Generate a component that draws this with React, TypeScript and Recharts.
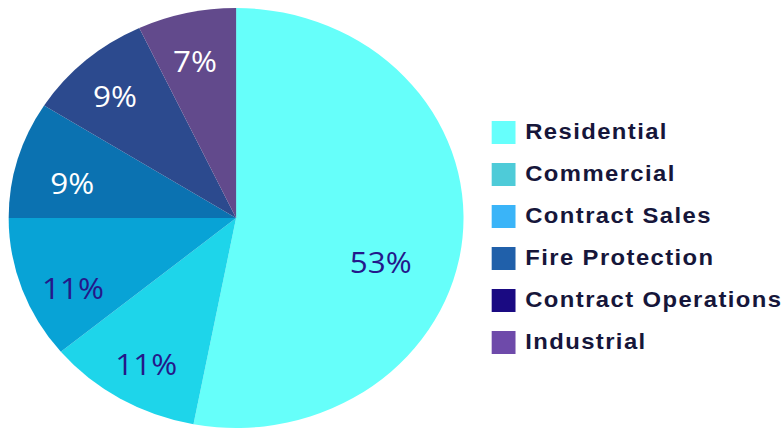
import { Cell, Legend, Pie, PieChart } from "recharts"

// Segment share pie. The reference is stretched a little horizontally,
// so the whole chart is drawn round and then scaled on x.

const categories = [
  "Residential",
  "Commercial",
  "Contract Sales",
  "Fire Protection",
  "Contract Operations",
  "Industrial",
]
const shares = [53, 11, 11, 9, 9, 7]

const SLICE_COLORS = ["#66fffa", "#1ed5ea", "#08a3d6", "#0b72b1", "#2c4a8e", "#624a8c"]
const LEGEND_COLORS = ["#66fffc", "#4ecbd8", "#3ab4f8", "#2060aa", "#1a0a82", "#6e4aaa"]
const LABEL_COLORS = ["#24188a", "#24188a", "#24188a", "#ffffff", "#ffffff", "#ffffff"]

// label radius (fraction of outer radius) and angle nudge in degrees
const LABEL_NUDGE = [
  { r: 0.67, da: -13 },
  { r: 0.8, da: 1 },
  { r: 0.79, da: 5 },
  { r: 0.74, da: 3 },
  { r: 0.79, da: 1 },
  { r: 0.77, da: 1 },
]

const SCALE_X = 1.083
const RAD = Math.PI / 180

const data = categories.map((name, i) => ({ name, value: shares[i] }))

function renderLabel(props: any) {
  const { cx, cy, midAngle, outerRadius, index, value } = props
  const nudge = LABEL_NUDGE[index]
  const angle = (midAngle + nudge.da) * RAD
  const r = outerRadius * nudge.r
  const x = cx + r * Math.cos(-angle)
  const y = cy + r * Math.sin(-angle)
  return (
    <text
      x={x}
      y={y}
      textAnchor="middle"
      dominantBaseline="central"
      fill={LABEL_COLORS[index]}
      fontFamily="'Open Sans', sans-serif"
      fontSize={29}
    >
      {value}%
    </text>
  )
}

function LegendList() {
  return (
    <div>
      {categories.map((name, i) => (
        <div key={name} style={{ display: "flex", alignItems: "center", height: 42 }}>
          <span
            style={{
              display: "inline-block",
              width: 22,
              height: 23,
              background: LEGEND_COLORS[i],
              marginRight: 9,
            }}
          />
          <span
            style={{
              fontFamily: "'Liberation Sans', Arial, sans-serif",
              fontWeight: 700,
              fontSize: 22,
              letterSpacing: 1.3,
              color: "#16163a",
              whiteSpace: "nowrap",
            }}
          >
            {name}
          </span>
        </div>
      ))}
    </div>
  )
}

export default function App() {
  return (
    <div
      style={{
        position: "absolute",
        left: 0,
        top: 0,
        width: 724,
        height: 429,
        transform: `scaleX(${SCALE_X})`,
        transformOrigin: "0 0",
        background: "#fff",
      }}
    >
      <PieChart width={724} height={429} margin={{ top: 0, right: 0, bottom: 0, left: 0 }}>
        <Pie
          data={data}
          dataKey="value"
          nameKey="name"
          cx={218}
          cy={218}
          outerRadius={210}
          startAngle={90}
          endAngle={-270}
          stroke="none"
          label={renderLabel}
          labelLine={false}
          isAnimationActive={false}
        >
          {data.map((_, i) => (
            <Cell key={i} fill={SLICE_COLORS[i]} />
          ))}
        </Pie>
        <Legend
          content={() => <LegendList />}
          wrapperStyle={{ position: "absolute", left: 454, top: 111, width: 270 }}
        />
      </PieChart>
    </div>
  )
}
